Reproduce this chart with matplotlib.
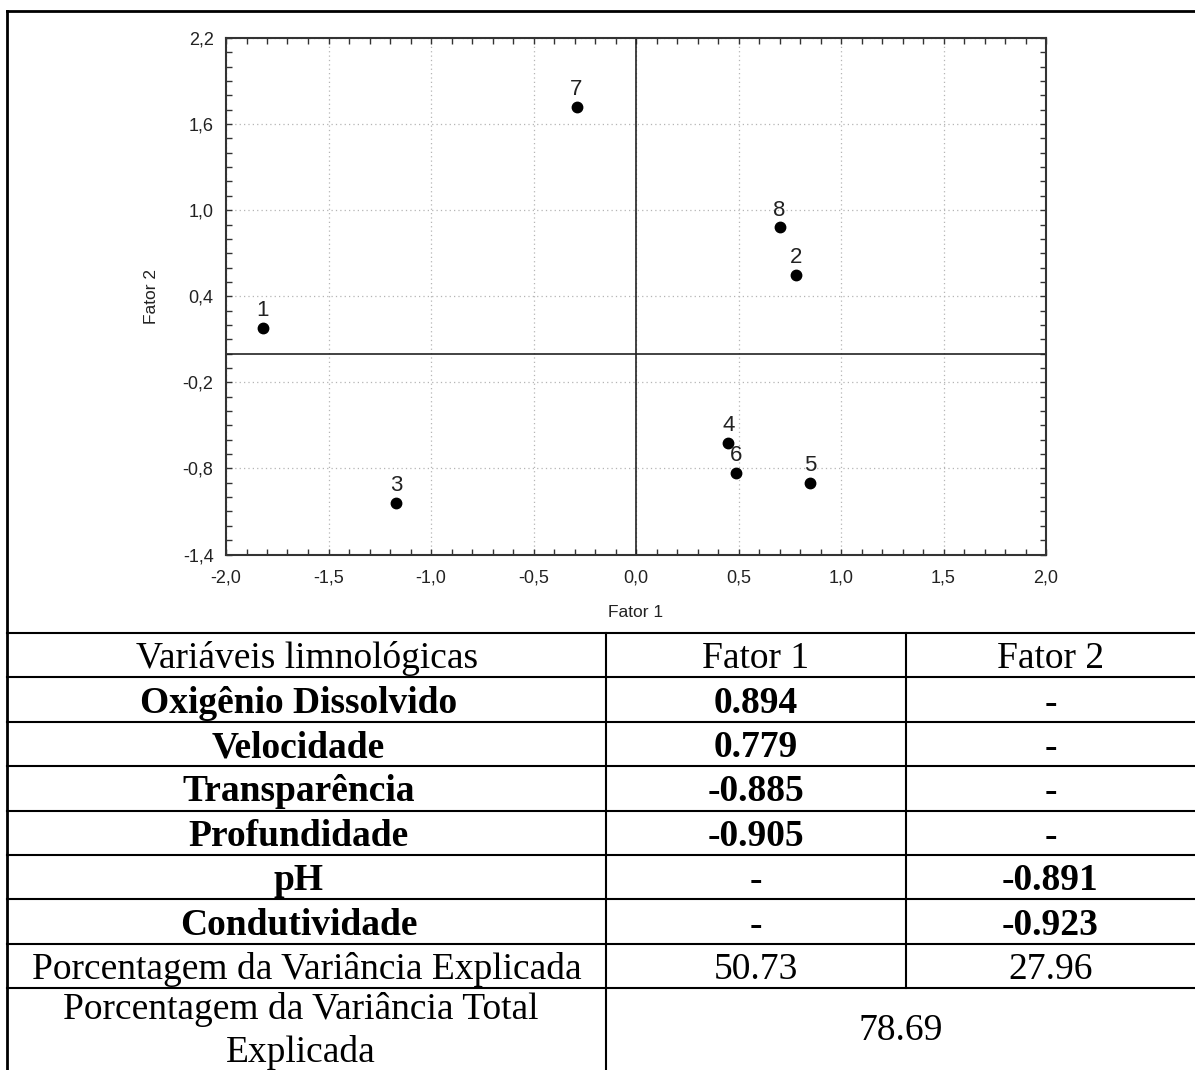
import numpy as np
import matplotlib.pyplot as plt
from matplotlib.ticker import MultipleLocator, FuncFormatter

# Factor scores of the sampling sites
sites = ['1', '2', '3', '4', '5', '6', '7', '8']
fator1 = [-1.82, 0.78, -1.17, 0.45, 0.85, 0.49, -0.29, 0.70]
fator2 = [0.18, 0.55, -1.04, -0.62, -0.90, -0.83, 1.72, 0.88]

# Loadings table
cabecalho = ['Variáveis limnológicas', 'Fator 1', 'Fator 2']
variaveis = ['Oxigênio Dissolvido', 'Velocidade', 'Transparência',
             'Profundidade', 'pH', 'Condutividade']
carga_f1 = ['0.894', '0.779', '-0.885', '-0.905', '-', '-']
carga_f2 = ['-', '-', '-', '-', '-0.891', '-0.923']
var_explicada = ['50.73', '27.96']
var_total = '78.69'

W, H = 1195, 1070
fig = plt.figure(figsize=(W / 100, H / 100), dpi=100)

# overlay in pixel coordinates for the frame and the table
ov = fig.add_axes([0, 0, 1, 1])
ov.set_xlim(0, W)
ov.set_ylim(H, 0)
ov.axis('off')

# ---- scatter plot ----
ax = fig.add_axes([226 / W, 1 - 554.5 / H, 820 / W, 516.5 / H])
ax.set_xlim(-2.0, 2.0)
ax.set_ylim(-1.4, 2.2)
ax.set_xticks(np.arange(-2.0, 2.01, 0.5))
ax.set_yticks(np.arange(-1.4, 2.21, 0.6))
ax.xaxis.set_minor_locator(MultipleLocator(0.1))
ax.yaxis.set_minor_locator(MultipleLocator(0.1))
fmt = FuncFormatter(lambda v, p: f"{round(v, 1) + 0.0:.1f}".replace('.', ','))
ax.xaxis.set_major_formatter(fmt)
ax.yaxis.set_major_formatter(fmt)
ax.tick_params(which='both', direction='in', top=True, right=True,
               color='#333333', width=1.0, labelsize=13,
               labelcolor='#222222', labelfontfamily='Liberation Sans')
ax.tick_params(which='major', length=4)
ax.tick_params(which='minor', length=4)
ax.tick_params(axis='x', pad=11)
ax.tick_params(axis='y', pad=9)
for s in ax.spines.values():
    s.set_color('#333333')
    s.set_linewidth(1.5)
ax.grid(True, which='major', linestyle=(0, (1, 2.5)), color='#b5b5b5', linewidth=0.9)
ax.axhline(0, color='#222222', linewidth=1.2)
ax.axvline(0, color='#222222', linewidth=1.2)

ax.plot(fator1, fator2, 'o', color='black', markersize=7.5, zorder=5)
for lab, x, y in zip(sites, fator1, fator2):
    ax.annotate(lab, (x, y), xytext=(0, 8.5), textcoords='offset points',
                ha='center', va='baseline', fontsize=16, color='#222222',
                family='Liberation Sans')

ax.set_xlabel('Fator 1', fontsize=12.5, color='#222222', family='Liberation Sans',
              labelpad=13)
ax.set_ylabel('Fator 2', fontsize=12.5, color='#222222', family='Liberation Sans',
              labelpad=17)

# ---- frame ----
ov.plot([7.5, 7.5], [11, H], color='black', lw=2.0)
ov.plot([7.5, W], [11, 11], color='black', lw=2.0)

# ---- table ----
x_cols = [7.5, 606, 906, W]
top = 633
rh = 44.4
n_rows = 8
ys = [top + i * rh for i in range(n_rows + 1)]
for y in ys:
    ov.plot([7.5, W], [y, y], color='black', lw=1.5)
ov.plot([x_cols[1], x_cols[1]], [top, H], color='black', lw=1.5)
ov.plot([x_cols[2], x_cols[2]], [top, ys[-1]], color='black', lw=1.5)

cx = [(x_cols[i] + x_cols[i + 1]) / 2 for i in range(3)]
tfont = dict(family='Liberation Serif', fontsize=27, ha='center', va='baseline')

for j, txt in enumerate(cabecalho):
    ov.text(cx[j], ys[0] + rh / 2 + 13, txt, **tfont)
for i, (v, a, b) in enumerate(zip(variaveis, carga_f1, carga_f2)):
    yb = ys[i + 1] + rh / 2 + 13
    ov.text(cx[0] - 8, yb, v, fontweight='bold', **tfont)
    ov.text(cx[1], yb, a, fontweight='bold', **tfont)
    ov.text(cx[2], yb, b, fontweight='bold', **tfont)
yb = ys[7] + rh / 2 + 13
ov.text(cx[0], yb, 'Porcentagem da Variância Explicada', **tfont)
ov.text(cx[1], yb, var_explicada[0], **tfont)
ov.text(cx[2], yb, var_explicada[1], **tfont)

ov.text(cx[0] - 6, 1019, 'Porcentagem da Variância Total', **tfont)
ov.text(cx[0] - 6, 1062, 'Explicada', **tfont)
ov.text((x_cols[1] + W) / 2, 1040, var_total, **tfont)

fig.savefig('out.png', dpi=100)
